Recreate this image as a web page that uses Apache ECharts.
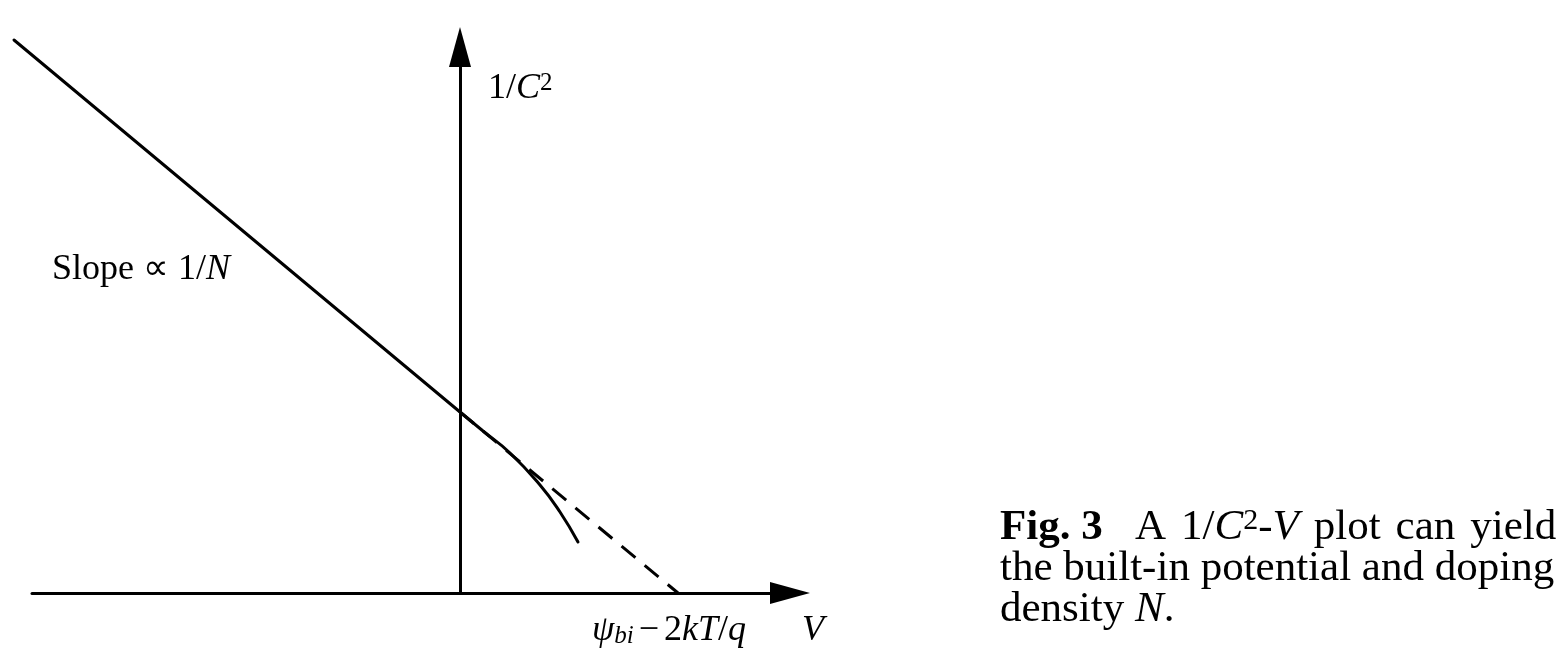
<!DOCTYPE html>
<html><head><meta charset="utf-8">
<script src="https://cdn.jsdelivr.net/npm/echarts@6/dist/echarts.min.js"></script>
<style>html,body{margin:0;padding:0;background:#fff}#c{width:1564px;height:661px}</style>
</head><body><div id="c"></div>
<script>
// ---- data (V and 1/C^2 in arbitrary units) ----
const straightPart = [[-4.46, 5.53], [0, 1.81]];
const curvedPart = [[0, 1.81], [0.23, 1.62], [0.50, 1.40], [0.80, 1.08], [1.00, 0.81], [1.18, 0.51]];
const extrapolation = [[0, 1.81], [2.18, 0]];
const xExtent = [-4.28, 3.30];
const yExtent = [0, 5.46];

const serif = 'Liberation Serif';
const INK = '#000';

function rich(fs, supLH) {
  const base = {fontFamily: serif, fontSize: fs, lineHeight: fs, fill: INK};
  return {
    r: base,
    w: Object.assign({}, base, {width: Math.round(fs * 0.36)}),
    t: Object.assign({}, base, {width: 5}),
    i: Object.assign({}, base, {fontStyle: 'italic'}),
    b: Object.assign({}, base, {fontWeight: 'bold'}),
    sup: {fontFamily: serif, fontSize: Math.round(fs * 0.7), lineHeight: supLH, verticalAlign: 'top', fill: INK},
    sub: {fontFamily: serif, fontSize: Math.round(fs * 0.7), lineHeight: 18, verticalAlign: 'bottom', fontStyle: 'italic', fill: INK}
  };
}
function label(x, baseline, text, fs, supLH) {
  return {
    type: 'text', silent: true,
    style: {text: text, x: x, y: baseline - 0.3375 * fs, align: 'left', verticalAlign: 'middle',
            rich: rich(fs, supLH || 24), font: fs + 'px "' + serif + '"', fill: INK}
  };
}

const chart = echarts.init(document.getElementById('c'), null, {renderer: 'canvas'});
const axisCommon = {
  type: 'value',
  axisLine: {show: true, onZero: true, symbol: ['none', 'triangle'], symbolSize: [22, 40],
             lineStyle: {color: INK, width: 3}},
  axisTick: {show: false}, axisLabel: {show: false}, splitLine: {show: false}
};
chart.setOption({
  animation: false,
  backgroundColor: '#fff',
  grid: {left: 32, right: 774, top: 47, bottom: 68, containLabel: false, outerBoundsMode: 'none'},
  xAxis: Object.assign({}, axisCommon, {min: xExtent[0], max: xExtent[1]}),
  yAxis: Object.assign({}, axisCommon, {min: yExtent[0], max: yExtent[1]}),
  series: [
    {type: 'lines', coordinateSystem: 'cartesian2d', polyline: true, clip: false, silent: true,
     data: [{coords: straightPart}],
     lineStyle: {color: INK, width: 3, opacity: 1, cap: 'round', curveness: 0}},
    {type: 'line', data: curvedPart, showSymbol: false, clip: false, silent: true, smooth: 0.5,
     lineStyle: {color: INK, width: 3, cap: 'round'}},
    {type: 'line', data: extrapolation, showSymbol: false, clip: false, silent: true,
     lineStyle: {color: INK, width: 3, type: [18, 12]}}
  ],
  graphic: [
    label(488, 101, '{r|1/}{i|C}{sup|2}', 36, 18),
    label(52, 282, '{r|Slope ∝ 1/}{i|N}', 36),
    label(592, 643, '{i|ψ}{sub|bi}{t| }{r|−}{t| }{r|2}{i|kT}{r|/}{i|q}', 36),
    label(802, 643, '{i|V}', 36),
    label(1000, 542, '{b|Fig. 3}{r|   A}{w| }{r|1/}{i|C}{sup|2}{r|-}{i|V}{w| }{r|plot}{w| }{r|can}{w| }{r|yield}', 43, 26),
    label(1000, 583, '{r|the built-in potential and doping}', 43),
    label(1000, 624, '{r|density }{i|N}{r|.}', 43)
  ]
});
</script></body></html>
